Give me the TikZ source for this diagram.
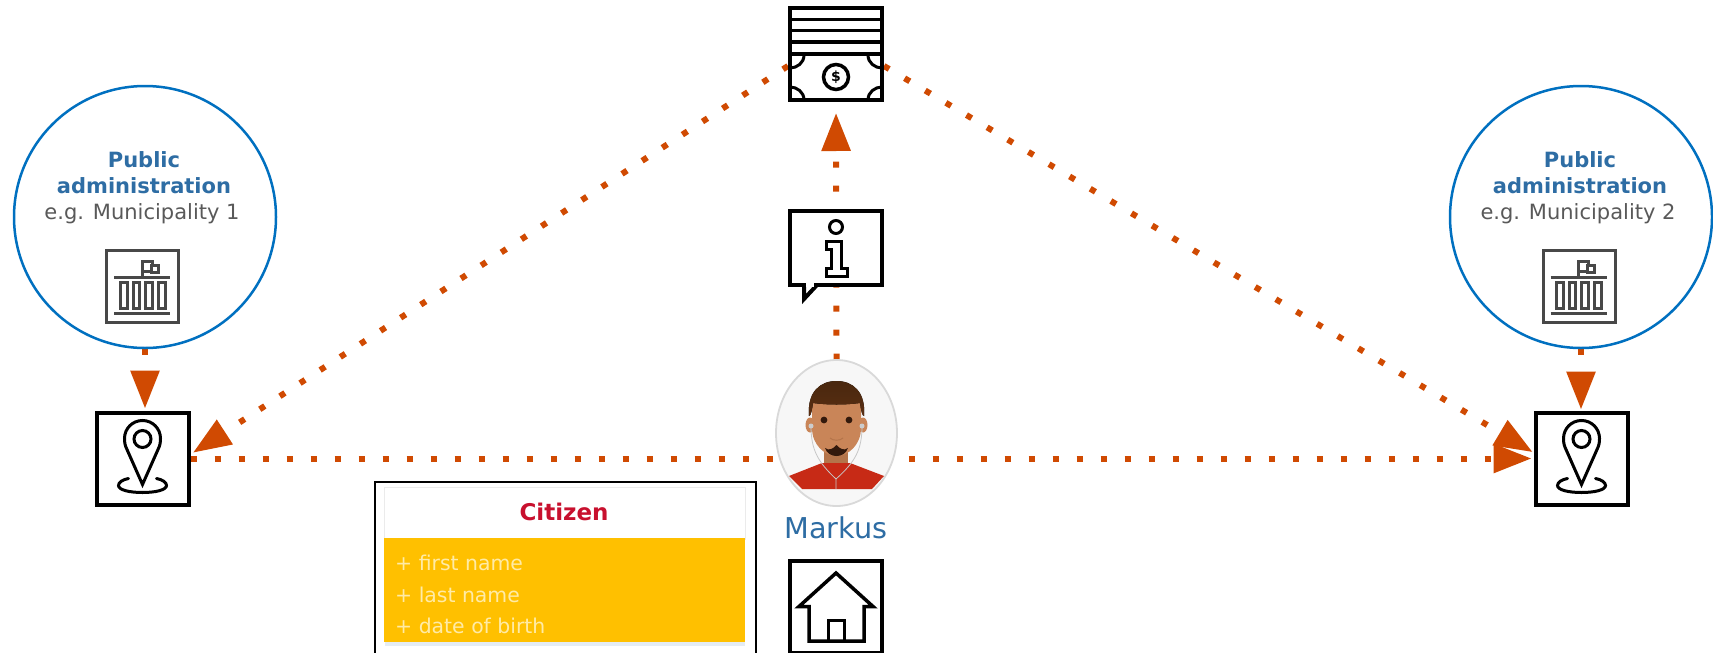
\documentclass[tikz,border=0pt]{standalone}
\usepackage{fontspec}
\setmainfont{DejaVu Sans}
\usetikzlibrary{arrows.meta,shapes.geometric,backgrounds,calc}
\definecolor{link}{HTML}{D04A02}
\definecolor{ring}{HTML}{0070C0}
\definecolor{head}{HTML}{2E6DA4}
\definecolor{greytxt}{HTML}{595959}
\definecolor{icongrey}{HTML}{484848}
\definecolor{gold}{HTML}{FFC000}
\definecolor{goldtxt}{HTML}{FFEBA6}
\definecolor{redtxt}{HTML}{C8102E}
\definecolor{skin}{HTML}{C98558}
\definecolor{skindark}{HTML}{B4744A}
\definecolor{hair}{HTML}{5A2E12}
\definecolor{hairtop}{HTML}{7A4218}
\definecolor{shirt}{HTML}{C72A16}
\definecolor{beard}{HTML}{33190C}
\definecolor{softblue}{HTML}{E4ECF4}
\tikzset{
  iconbox/.style={draw=black,fill=white,line width=4pt,minimum size=92pt,inner sep=0pt},
  dots/.style={draw=link,line width=6pt,dash pattern=on 6pt off 18pt},
  tipped/.style={-{Triangle[length=38pt,width=28pt,fill=link]}},
  admincircle/.style={circle,draw=ring,fill=white,line width=2.5pt,minimum size=262pt,inner sep=0pt},
  adminhead/.style={anchor=base,text=head,font=\fontsize{21}{21}\selectfont\bfseries,inner sep=0pt},
  adminsub/.style={anchor=base,text=greytxt,font=\fontsize{21}{22}\selectfont,inner sep=0pt},
  bldbox/.style={draw=icongrey,fill=white,line width=3pt,minimum size=72pt,inner sep=0pt},
  bldline/.style={draw=icongrey,line width=3pt},
  attr/.style={anchor=base west,text=goldtxt,font=\fontsize{20.4}{21}\selectfont,inner sep=0pt},
  pin/.pic={
    \draw[line width=3pt,line join=miter] (0,26) -- (-15.5,-9) .. controls (-17.5,-13) and (-18,-16) .. (-18,-20)
      .. controls (-18,-30) and (-10,-38) .. (0,-38) .. controls (10,-38) and (18,-30) .. (18,-20)
      .. controls (18,-16) and (17.5,-13) .. (15.5,-9) -- cycle;
    \draw[line width=3pt] (0,-19.5) circle (8.5);
    \draw[line width=3pt,line cap=round] (-14,20) .. controls (-20,21) and (-24,24) .. (-24,27)
      .. controls (-24,31.5) and (-13,34) .. (0,34) .. controls (13,34) and (24,31.5) .. (24,27)
      .. controls (24,24) and (20,21) .. (14,20);
  },
  building/.pic={
    \draw[bldline] (-28.5,-9.5) -- (27.5,-9.5);
    \draw[bldline] (-28.5,26.5) -- (27.5,26.5);
    \draw[bldline] (-22.5,-4.5) rectangle (-15.5,21.5);
    \draw[bldline] (-9.5,-4.5) rectangle (-3.5,21.5);
    \draw[bldline] (2.5,-4.5) rectangle (9.5,21.5);
    \draw[bldline] (15.5,-4.5) rectangle (22.5,21.5);
    \draw[bldline] (-0.5,-9.5) -- (-0.5,-25.5) -- (9.5,-25.5) -- (9.5,-15.5) -- (-0.5,-15.5);
    \draw[bldline,fill=white] (8.5,-21.5) rectangle (15.5,-14.5);
  }
}
\begin{document}
\begin{tikzpicture}[x=1pt,y=-1pt]
\useasboundingbox (0,0) rectangle (1713,653);
\clip (0,0) rectangle (1713,653);

% --- nodes
\node[iconbox] (money) at (836,54) {};
\node[iconbox,minimum height=74pt] (info) at (836,248) {};
\node[iconbox] (home) at (836,607) {};
\node[iconbox] (locA) at (142.5,458.5) {};
\node[iconbox] (locB) at (1581.5,458.5) {};
\node[admincircle] (admA) at (145,217) {};
\node[admincircle] (admB) at (1581,217) {};
\node[ellipse,draw=black!15,fill=black!3,line width=1.8pt,minimum width=121pt,minimum height=146pt,inner sep=0pt] (markus) at (836.5,433) {};

% --- connectors, beneath every node
\begin{pgfonlayer}{background}
\fill[white] (0,0) rectangle (1713,653);
\draw[dots,tipped,dash phase=0.5pt,shorten >=11pt] (markus.north) -- (money.south);
\draw[dots,tipped,shorten >=3pt] (money.194) -- (locA.5);
\draw[dots,tipped,shorten >=1pt] (money.-14.6) -- (locB.173.4);
\draw[dots] (locA.east) -- (markus.west |- locA.east);
\draw[dots,tipped,shorten >=2pt] (markus.center |- locB.west) -- (locB.west);
\draw[dots,tipped,shorten >=2pt] (admA.south) -- (admA.south |- locA.north);
\draw[dots,tipped,shorten >=1pt] (admB.south) -- (admB.south |- locB.north);
\end{pgfonlayer}

% --- money icon
\begin{scope}[line width=3pt]
\draw (790,19) -- (882,19);
\draw (790,30) -- (882,30);
\draw[line width=4pt] (790,42) -- (882,42);
\draw[line width=4pt] (790,54) -- (882,54);
\draw (804,55) .. controls (804,63) and (797,68) .. (790,68);
\draw (868,55) .. controls (868,63) and (875,68) .. (882,68);
\draw (804,100) .. controls (804,92) and (797,87) .. (790,87);
\draw (868,100) .. controls (868,92) and (875,87) .. (882,87);
\node[circle,draw=black,line width=3.5pt,minimum size=25pt,inner sep=0pt,font=\fontsize{14}{14}\selectfont\bfseries] (coin) at (836,77) {\$};
\end{scope}

% --- info icon
\fill[white] (804,285) -- (804,300) -- (817,285) -- cycle;
\draw[line width=4pt,line join=miter,miter limit=10] (804,285) -- (804,299) -- (817,285);
\draw[line width=3pt] (836,227) circle (6.5);
\draw[line width=3pt,line join=miter] (826,241) -- (841,241) -- (841,268) -- (847,268) -- (847,276) -- (826,276) -- (826,268) -- (831,268) -- (831,249) -- (826,249) -- cycle;
\draw[white,line width=4.2pt] (806.2,285) -- (813.5,285);

% --- home icon
\draw[line width=3.5pt,line join=miter] (809,641) -- (809,606.5) -- (799,606.5) -- (836,573) -- (873,606.5) -- (864,606.5) -- (864,641) -- cycle;
\draw[line width=3pt] (828,641) -- (828,620) -- (844,620) -- (844,641);

% --- location icons
\pic at (locA.center) {pin};
\pic at (locB.center) {pin};

% --- public administration 1
\node[adminhead] (a1) at (144,167) {Public};
\node[adminhead] (a2) at (144,193) {administration};
\node[adminsub] (a3) at (142,219) {e.g. Municipality 1};
\node[bldbox] (bA) at (142.5,286.5) {};
\pic at (bA.center) {building};

% --- public administration 2
\node[adminhead] (b1) at (1580,167) {Public};
\node[adminhead] (b2) at (1580,193) {administration};
\node[adminsub] (b3) at (1578,219) {e.g. Municipality 2};
\node[bldbox] (bB) at (1579,286.5) {};
\pic at (bB.center) {building};

% --- Markus avatar
\begin{scope}
\fill[skin] (810,425) ellipse (4.5 and 7.5);
\fill[skin] (863,425) ellipse (4.5 and 7.5);
\fill[skindark] (824,448) rectangle (848,466);
\fill[shirt] (789,476) -- (822,463) -- (850,463) -- (884,476) -- (872,489) -- (802,489) -- cycle;
\fill[skin] (812,400) -- (861,400) -- (861,428) .. controls (861,445) and (848,456) .. (836.5,456) .. controls (825,456) and (812,445) .. (812,428) -- cycle;
\fill[top color=hairtop!60!black,bottom color=hair] (809,416) .. controls (807,392) and (820,381) .. (836.5,381) .. controls (853,381) and (866,392) .. (864,416)
  .. controls (862,416) and (861,410) .. (860,403) .. controls (845,405) and (828,405) .. (813,403) .. controls (812,410) and (811,416) .. (809,416) -- cycle;
\fill[beard] (824,420) circle (3.4);
\fill[beard] (849,420) circle (3.4);
\draw[skindark,line width=1pt] (830,438) .. controls (833,441) and (840,441) .. (843,438);
\fill[beard] (825,448) .. controls (829,451) and (833,449) .. (836.5,445) .. controls (840,449) and (844,451) .. (848,448) .. controls (846,454) and (841,456) .. (836.5,456) .. controls (832,456) and (827,454) .. (825,448) -- cycle;
\draw[black!22,line width=0.8pt] (811,426) .. controls (811,450) and (818,462) .. (836,479) -- (836,489);
\draw[black!22,line width=0.8pt] (862,426) .. controls (862,450) and (855,462) .. (836,479);
\fill[black!20] (811,426) circle (2.5);
\fill[black!20] (862,426) circle (2.5);
\end{scope}
\node[anchor=base,text=head,inner sep=0pt,font=\fontsize{28.7}{29}\selectfont] (mname) at (836,538) {Markus};

% --- Citizen class
\node[draw=black,fill=white,line width=2pt,minimum width=381pt,minimum height=240pt,inner sep=0pt] (citizen) at (565.5,602) {};
\node[draw=black!8,fill=white,line width=0.8pt,minimum width=361pt,minimum height=52pt,inner sep=0pt] (ctop) at (564.5,513) {};
\fill[softblue] (385,642) rectangle (745,646);
\node[fill=gold,minimum width=361pt,minimum height=104pt,inner sep=0pt] (cbody) at (564.5,590) {};
\node[anchor=base,text=redtxt,inner sep=0pt,font=\fontsize{23}{23}\selectfont\bfseries] (ctitle) at (564,520) {Citizen};
\node[attr] (c1) at (395,570) {+ first name};
\node[attr] (c2) at (395,602) {+ last name};
\node[attr] (c3) at (395,633) {+ date of birth};
\end{tikzpicture}
\end{document}
